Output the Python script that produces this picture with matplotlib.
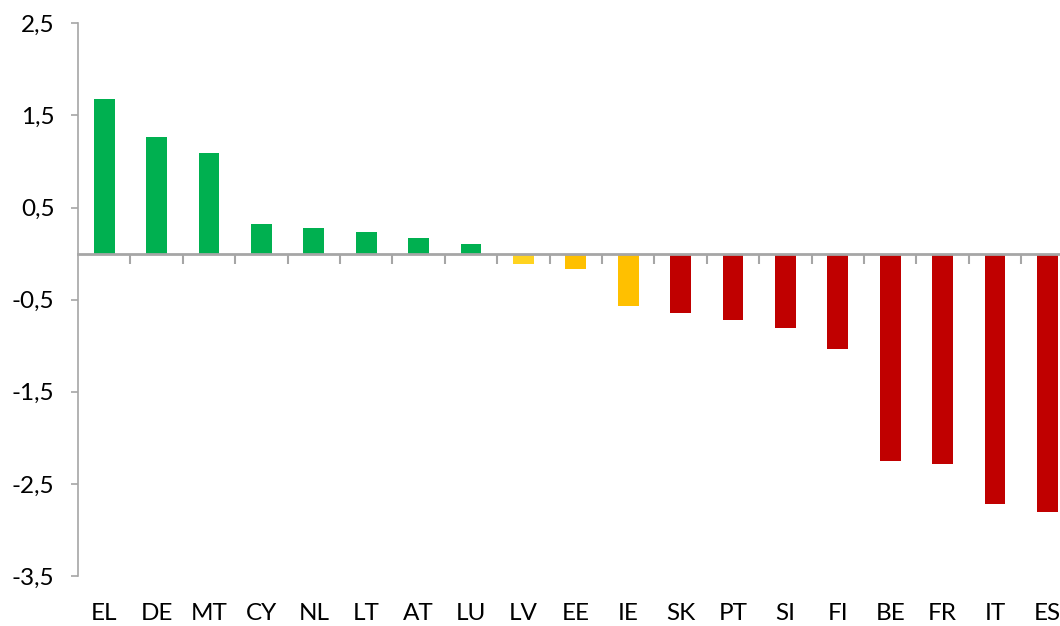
import matplotlib
matplotlib.use("Agg")
import matplotlib.pyplot as plt
from matplotlib.ticker import FuncFormatter, FixedLocator
import matplotlib.transforms as mtransforms

countries = ["EL", "DE", "MT", "CY", "NL", "LT", "AT", "LU", "LV", "EE",
             "IE", "SK", "PT", "SI", "FI", "BE", "FR", "IT", "ES"]
values = [1.68, 1.265, 1.09, 0.32, 0.28, 0.233, 0.168, 0.103, -0.11, -0.165,
          -0.57, -0.65, -0.72, -0.81, -1.04, -2.25, -2.285, -2.72, -2.81]
colors = ["#00B050"] * 8 + ["#FFD320", "#FFC000", "#FFC000"] + ["#C00000"] * 8
yticks = [2.5, 1.5, 0.5, -0.5, -1.5, -2.5, -3.5]

plt.rcParams['font.family'] = ['Lato', 'DejaVu Sans']

fig = plt.figure(figsize=(10.6, 6.26), dpi=100)
W, H = 1060, 626
left, right = 78, 78 + 19 * 52.4
top, bottom = 23.3, 576
ax = fig.add_axes([left / W, 1 - bottom / H, (right - left) / W, (bottom - top) / H])

x = list(range(len(countries)))
ax.bar(x, values, width=0.4, color=colors, zorder=3)

ax.set_xlim(-0.5, len(countries) - 0.5)
ax.set_ylim(-3.5, 2.5)

axis_col = "#A6A6A6"
for s in ["top", "right"]:
    ax.spines[s].set_visible(False)
ax.spines["left"].set_color(axis_col)
ax.spines["left"].set_linewidth(1.2)
ax.spines["bottom"].set_position(("data", 0))
ax.spines["bottom"].set_color(axis_col)
ax.spines["bottom"].set_linewidth(2.0)
ax.spines["bottom"].set_zorder(4)

ax.yaxis.set_major_locator(FixedLocator(yticks))
ax.yaxis.set_major_formatter(FuncFormatter(lambda v, p: ("%.1f" % v).replace(".", ",")))
ax.tick_params(axis="y", direction="out", length=5, width=1.2, color=axis_col,
               labelsize=17.5, pad=12, labelcolor="#000000")

boundaries = [i + 0.5 for i in range(len(countries))]
ax.xaxis.set_major_locator(FixedLocator(boundaries))
ax.tick_params(axis="x", direction="out", length=7, width=1.5, color=axis_col,
               labelbottom=False)

trans = mtransforms.blended_transform_factory(ax.transData, ax.transAxes)
for i, c in enumerate(countries):
    ax.text(i, -0.068, c, transform=trans, ha="center", va="center",
            fontsize=17.5, color="#000000")

fig.savefig("out.png", dpi=100)
